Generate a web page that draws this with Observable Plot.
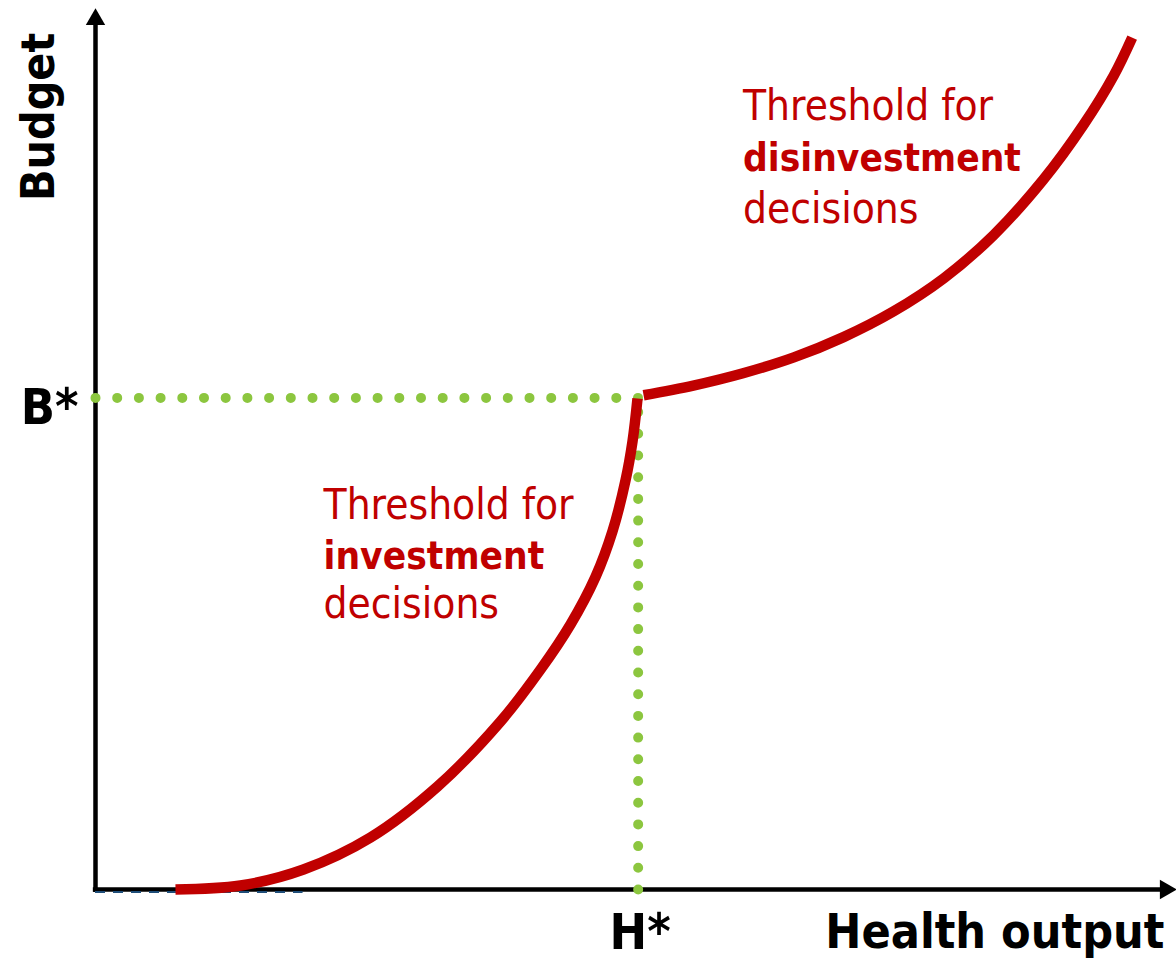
<!DOCTYPE html>
<html>
<head>
<meta charset="utf-8">
<script src="https://cdn.jsdelivr.net/npm/d3@7"></script>
<script src="https://cdn.jsdelivr.net/npm/@observablehq/plot@0.6"></script>
<style>
  html, body { margin: 0; padding: 0; background: #ffffff; }
  #chart svg { display: block; }
</style>
</head>
<body>
<div id="chart"></div>
<script>
// ---- Data (arbitrary units: Health output 0–100, Budget 0–100) ----
const hStar = 50.2;   // H*
const bStar = 55.8;   // B*

// Threshold for investment decisions (below H*)
const investmentX = [7.40, 13.41, 19.24, 25.44, 31.64, 37.47, 41.17, 43.94, 46.25, 47.83, 49.03, 49.68, 50.14];
const investmentY = [0.00, 0.45, 2.27, 5.90, 11.69, 19.07, 24.97, 30.08, 35.47, 40.68, 46.44, 50.89, 55.73];

// Threshold for disinvestment decisions (above H*)
const disinvestX = [50.7, 55.3, 59.9, 64.6, 69.2, 73.8, 78.5, 83.1, 87.7, 91.4, 94.2, 95.9];
const disinvestY = [56.1, 57.2, 58.6, 60.4, 62.7, 65.6, 69.4, 74.3, 80.6, 86.8, 92.4, 96.7];

// Labels
const axisLabels = { x: "Health output", y: "Budget" };
const starLabels = { h: "H*", b: "B*" };
const investmentLabel = ["Threshold for", "investment", "decisions"];
const disinvestLabel = ["Threshold for", "disinvestment", "decisions"];

// faint dashed trace under the x-axis
const traceSpan = [0, 19.2];

// ---- Build tables ----
const investment = investmentX.map((x, i) => ({x, y: investmentY[i]}));
const disinvest = disinvestX.map((x, i) => ({x, y: disinvestY[i]}));
const hLine = [{x: 0, y: bStar}, {x: hStar, y: bStar}];
const vLine = [{x: hStar, y: 0}, {x: hStar, y: bStar}];

const RED = "#c00000";
const GREEN = "#8cc63f";
const FONT = "'DejaVu Sans Condensed', 'DejaVu Sans', Verdana, sans-serif";

const labelLines = (lines, x, ys) => lines.map((t, i) => ({t, x, y: ys[i], bold: i === 1}));
const invLines = labelLines(investmentLabel, 21.1, [42.1, 36.4, 30.8]);
const disLines = labelLines(disinvestLabel, 59.9, [87.3, 81.5, 75.7]);

const chart = Plot.plot({
  width: 1176,
  height: 959,
  margin: 0,
  x: {domain: [0, 100], range: [95, 1176], axis: null},
  y: {domain: [0, 100], range: [889, 8], axis: null},
  style: {fontFamily: FONT, background: "#ffffff"},
  marks: [
    // axes lines
    Plot.ruleY([0], {x1: -0.2, x2: 99, stroke: "black", strokeWidth: 4.5}),
    Plot.ruleX([0], {y1: -0.35, y2: 98.5, stroke: "black", strokeWidth: 4.5}),
    // arrowheads
    Plot.dot([{x: 100, y: 0}], {x: "x", y: "y", symbol: "triangle", rotate: 90, r: 7.2, fill: "black", stroke: "none", dx: -11}),
    Plot.dot([{x: 0, y: 100}], {x: "x", y: "y", symbol: "triangle", r: 7.2, fill: "black", stroke: "none", dy: 11}),
    // faint dashed trace
    Plot.ruleY([0], {x1: traceSpan[0], x2: traceSpan[1], stroke: "#1f4e79", strokeWidth: 2, strokeDasharray: "10,8", dy: 2.5}),
    // green dotted guides
    Plot.line(hLine, {x: "x", y: "y", stroke: GREEN, strokeWidth: 10, strokeLinecap: "round", strokeDasharray: "0 21.7"}),
    Plot.line(vLine, {x: "x", y: "y", stroke: GREEN, strokeWidth: 10, strokeLinecap: "round", strokeDasharray: "0 21.7"}),
    // threshold curves
    Plot.line(investment, {x: "x", y: "y", stroke: RED, strokeWidth: 10.5, curve: "catmull-rom", strokeLinecap: "butt", strokeLinejoin: "round"}),
    Plot.line(disinvest, {x: "x", y: "y", stroke: RED, strokeWidth: 10.5, curve: "catmull-rom", strokeLinecap: "butt", strokeLinejoin: "round"}),
    // red labels (regular lines)
    Plot.text([...invLines, ...disLines].filter(d => !d.bold), {x: "x", y: "y", text: "t", fill: RED, fontSize: 42, textAnchor: "start", lineAnchor: "bottom", fontFamily: FONT}),
    // red labels (bold lines)
    Plot.text([...invLines, ...disLines].filter(d => d.bold), {x: "x", y: "y", text: "t", fill: RED, fontSize: 38.5, fontWeight: "bold", textAnchor: "start", lineAnchor: "bottom", fontFamily: FONT}),
    // axis labels
    Plot.text([{x: 0, y: 87.7, t: axisLabels.y}], {x: "x", y: "y", text: "t", rotate: -90, dx: -42, fontSize: 46, fontWeight: "bold", fill: "black", textAnchor: "middle", lineAnchor: "bottom", fontFamily: FONT}),
    Plot.text([{x: 100, y: 0, t: axisLabels.x}], {x: "x", y: "y", text: "t", dx: -12, dy: 58, fontSize: 48, fontWeight: "bold", fill: "black", textAnchor: "end", lineAnchor: "bottom", fontFamily: FONT}),
    // star labels
    Plot.text([{x: 0, y: bStar, t: starLabels.b}], {x: "x", y: "y", text: "t", dx: -17, dy: 25.6, fontSize: 50, fontWeight: "bold", fill: "black", textAnchor: "end", lineAnchor: "bottom", fontFamily: FONT}),
    Plot.text([{x: hStar, y: 0, t: starLabels.h}], {x: "x", y: "y", text: "t", dx: 2, dy: 59, fontSize: 50, fontWeight: "bold", fill: "black", textAnchor: "middle", lineAnchor: "bottom", fontFamily: FONT})
  ]
});

document.getElementById("chart").appendChild(chart);
</script>
</body>
</html>
